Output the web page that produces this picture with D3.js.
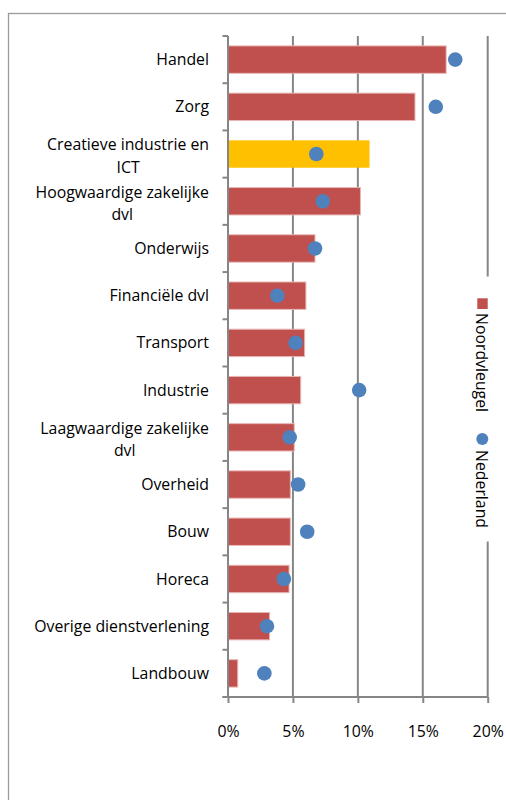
<!DOCTYPE html>
<html>
<head>
<meta charset="utf-8">
<script src="https://cdn.jsdelivr.net/npm/d3@7"></script>
<style>
  html, body { margin: 0; padding: 0; background: #fff; }
  svg { display: block; }
  text { font-family: "Open Sans", Lato, sans-serif; fill: #000; }
</style>
</head>
<body>
<svg id="chart" width="506" height="800"></svg>
<script>
// ---- data ----
const categories = [
  "Handel", "Zorg", "Creatieve industrie en ICT", "Hoogwaardige zakelijke dvl",
  "Onderwijs", "Financiële dvl", "Transport", "Industrie",
  "Laagwaardige zakelijke dvl", "Overheid", "Bouw", "Horeca",
  "Overige dienstverlening", "Landbouw"
];
const noordvleugel = [16.8, 14.4, 10.9, 10.2, 6.7, 6.0, 5.9, 5.6, 5.1, 4.8, 4.8, 4.7, 3.2, 0.75];
const nederland    = [17.5, 16.0, 6.8, 7.3, 6.7, 3.8, 5.2, 10.1, 4.75, 5.4, 6.1, 4.3, 3.0, 2.8];
const highlight = "Creatieve industrie en ICT";
const xTicks = [0, 5, 10, 15, 20];
const seriesNames = ["Noordvleugel", "Nederland"];

// ---- styles ----
const barColor = "#C0504D", hiColor = "#FFC000", dotColor = "#4F81BD", gridColor = "#868686";

const svg = d3.select("#chart");

// fit font size so text metrics resemble the original
function measure(str, size) {
  const t = svg.append("text").attr("font-size", size).attr("visibility", "hidden").text(str);
  const w = t.node().getComputedTextLength();
  t.remove();
  return w;
}
const fs = 100 * 175 / measure("Overige dienstverlening", 100);

// chart border
svg.append("rect").attr("x", 8.5).attr("y", 13.5).attr("width", 600).attr("height", 900)
  .attr("fill", "#fff").attr("stroke", "#9a9a9a").attr("stroke-width", 1.3);

const pLeft = 228, pRight = 487.7, pTop = 36, pBottom = 697;
const x = d3.scaleLinear().domain([0, 20]).range([pLeft, pRight]);
const y = d3.scaleBand().domain(categories).range([pTop, pBottom]).paddingInner(0.42).paddingOuter(0.21);
const yTickScale = d3.scaleBand().domain(categories).range([pTop, pBottom]);

// vertical gridlines (with legend gap on the last one)
const grid = svg.append("g");
xTicks.slice(1).forEach(t => {
  if (t === 20) {
    grid.append("line").attr("x1", x(t)).attr("x2", x(t)).attr("y1", pTop).attr("y2", 276.5)
      .attr("stroke", gridColor).attr("stroke-width", 2);
    grid.append("line").attr("x1", x(t)).attr("x2", x(t)).attr("y1", 541.5).attr("y2", pBottom)
      .attr("stroke", gridColor).attr("stroke-width", 2);
  } else {
    grid.append("line").attr("x1", x(t)).attr("x2", x(t)).attr("y1", pTop).attr("y2", pBottom)
      .attr("stroke", gridColor).attr("stroke-width", 2);
  }
});

// bars
svg.append("g").selectAll("rect").data(categories).join("rect")
  .attr("x", x(0))
  .attr("y", d => y(d))
  .attr("width", (d, i) => x(noordvleugel[i]) - x(0))
  .attr("height", y.bandwidth())
  .attr("fill", d => d === highlight ? hiColor : barColor)
  .attr("stroke", d => d === highlight ? "none" : "#e7b6b5")
  .attr("stroke-width", 1);

// dots
svg.append("g").selectAll("circle").data(categories).join("circle")
  .attr("cx", (d, i) => x(nederland[i]))
  .attr("cy", d => y(d) + y.bandwidth() / 2)
  .attr("r", 7.3)
  .attr("fill", dotColor);

// y axis
const yAxis = svg.append("g");
yAxis.append("line").attr("x1", pLeft).attr("x2", pLeft).attr("y1", pTop).attr("y2", pBottom)
  .attr("stroke", gridColor).attr("stroke-width", 2);
categories.concat(["__end"]).forEach((d, i) => {
  const yy = pTop + i * yTickScale.step();
  yAxis.append("line").attr("x1", pLeft - 5.5).attr("x2", pLeft).attr("y1", yy).attr("y2", yy)
    .attr("stroke", gridColor).attr("stroke-width", 2);
});

// x axis
const xAxisG = svg.append("g").attr("transform", `translate(0,${pBottom})`)
  .call(d3.axisBottom(x).tickValues(xTicks).tickFormat(d => d + "%").tickSize(6).tickSizeOuter(0));
xAxisG.select(".domain").attr("stroke", gridColor).attr("stroke-width", 2).attr("d", `M${pLeft - 5.5},0H${pRight}`);
xAxisG.selectAll(".tick line").attr("stroke", gridColor).attr("stroke-width", 2);
xAxisG.selectAll(".tick text").attr("font-family", "'Open Sans', Lato, sans-serif").attr("font-size", fs)
  .attr("y", 34).attr("dy", "0.35em").attr("fill", "#000");

// category labels
const labelRight = 209, maxW = 186, lh = 22.5;
const lab = svg.append("g").attr("font-size", fs);
categories.forEach(c => {
  const cy = yTickScale(c) + yTickScale.step() / 2;
  const words = c.split(" ");
  const lines = [];
  let cur = "";
  words.forEach(w => {
    const test = cur ? cur + " " + w : w;
    if (measure(test, fs) > maxW && cur) { lines.push(cur); cur = w; }
    else cur = test;
  });
  lines.push(cur);
  const bw = d3.max(lines, l => measure(l, fs));
  const cx = labelRight - bw / 2;
  const t = lab.append("text").attr("text-anchor", "middle");
  lines.forEach((l, k) => {
    t.append("tspan").attr("x", cx)
      .attr("y", cy + (k - (lines.length - 1) / 2) * lh + (lines.length > 1 ? 2 : 0))
      .attr("dy", "0.35em").text(l);
  });
});

// legend (rotated)
const lg = svg.append("g");
lg.append("rect").attr("x", 477.3).attr("y", 298.3).attr("width", 10.4).attr("height", 10.7).attr("fill", barColor);
lg.append("text").attr("transform", "translate(482,313) rotate(90)")
  .attr("font-size", fs).attr("dy", "0.35em").text(seriesNames[0]);
lg.append("circle").attr("cx", 482.3).attr("cy", 439).attr("r", 6).attr("fill", dotColor);
lg.append("text").attr("transform", "translate(482,450) rotate(90)")
  .attr("font-size", fs).attr("dy", "0.35em").text(seriesNames[1]);
</script>
</body>
</html>
